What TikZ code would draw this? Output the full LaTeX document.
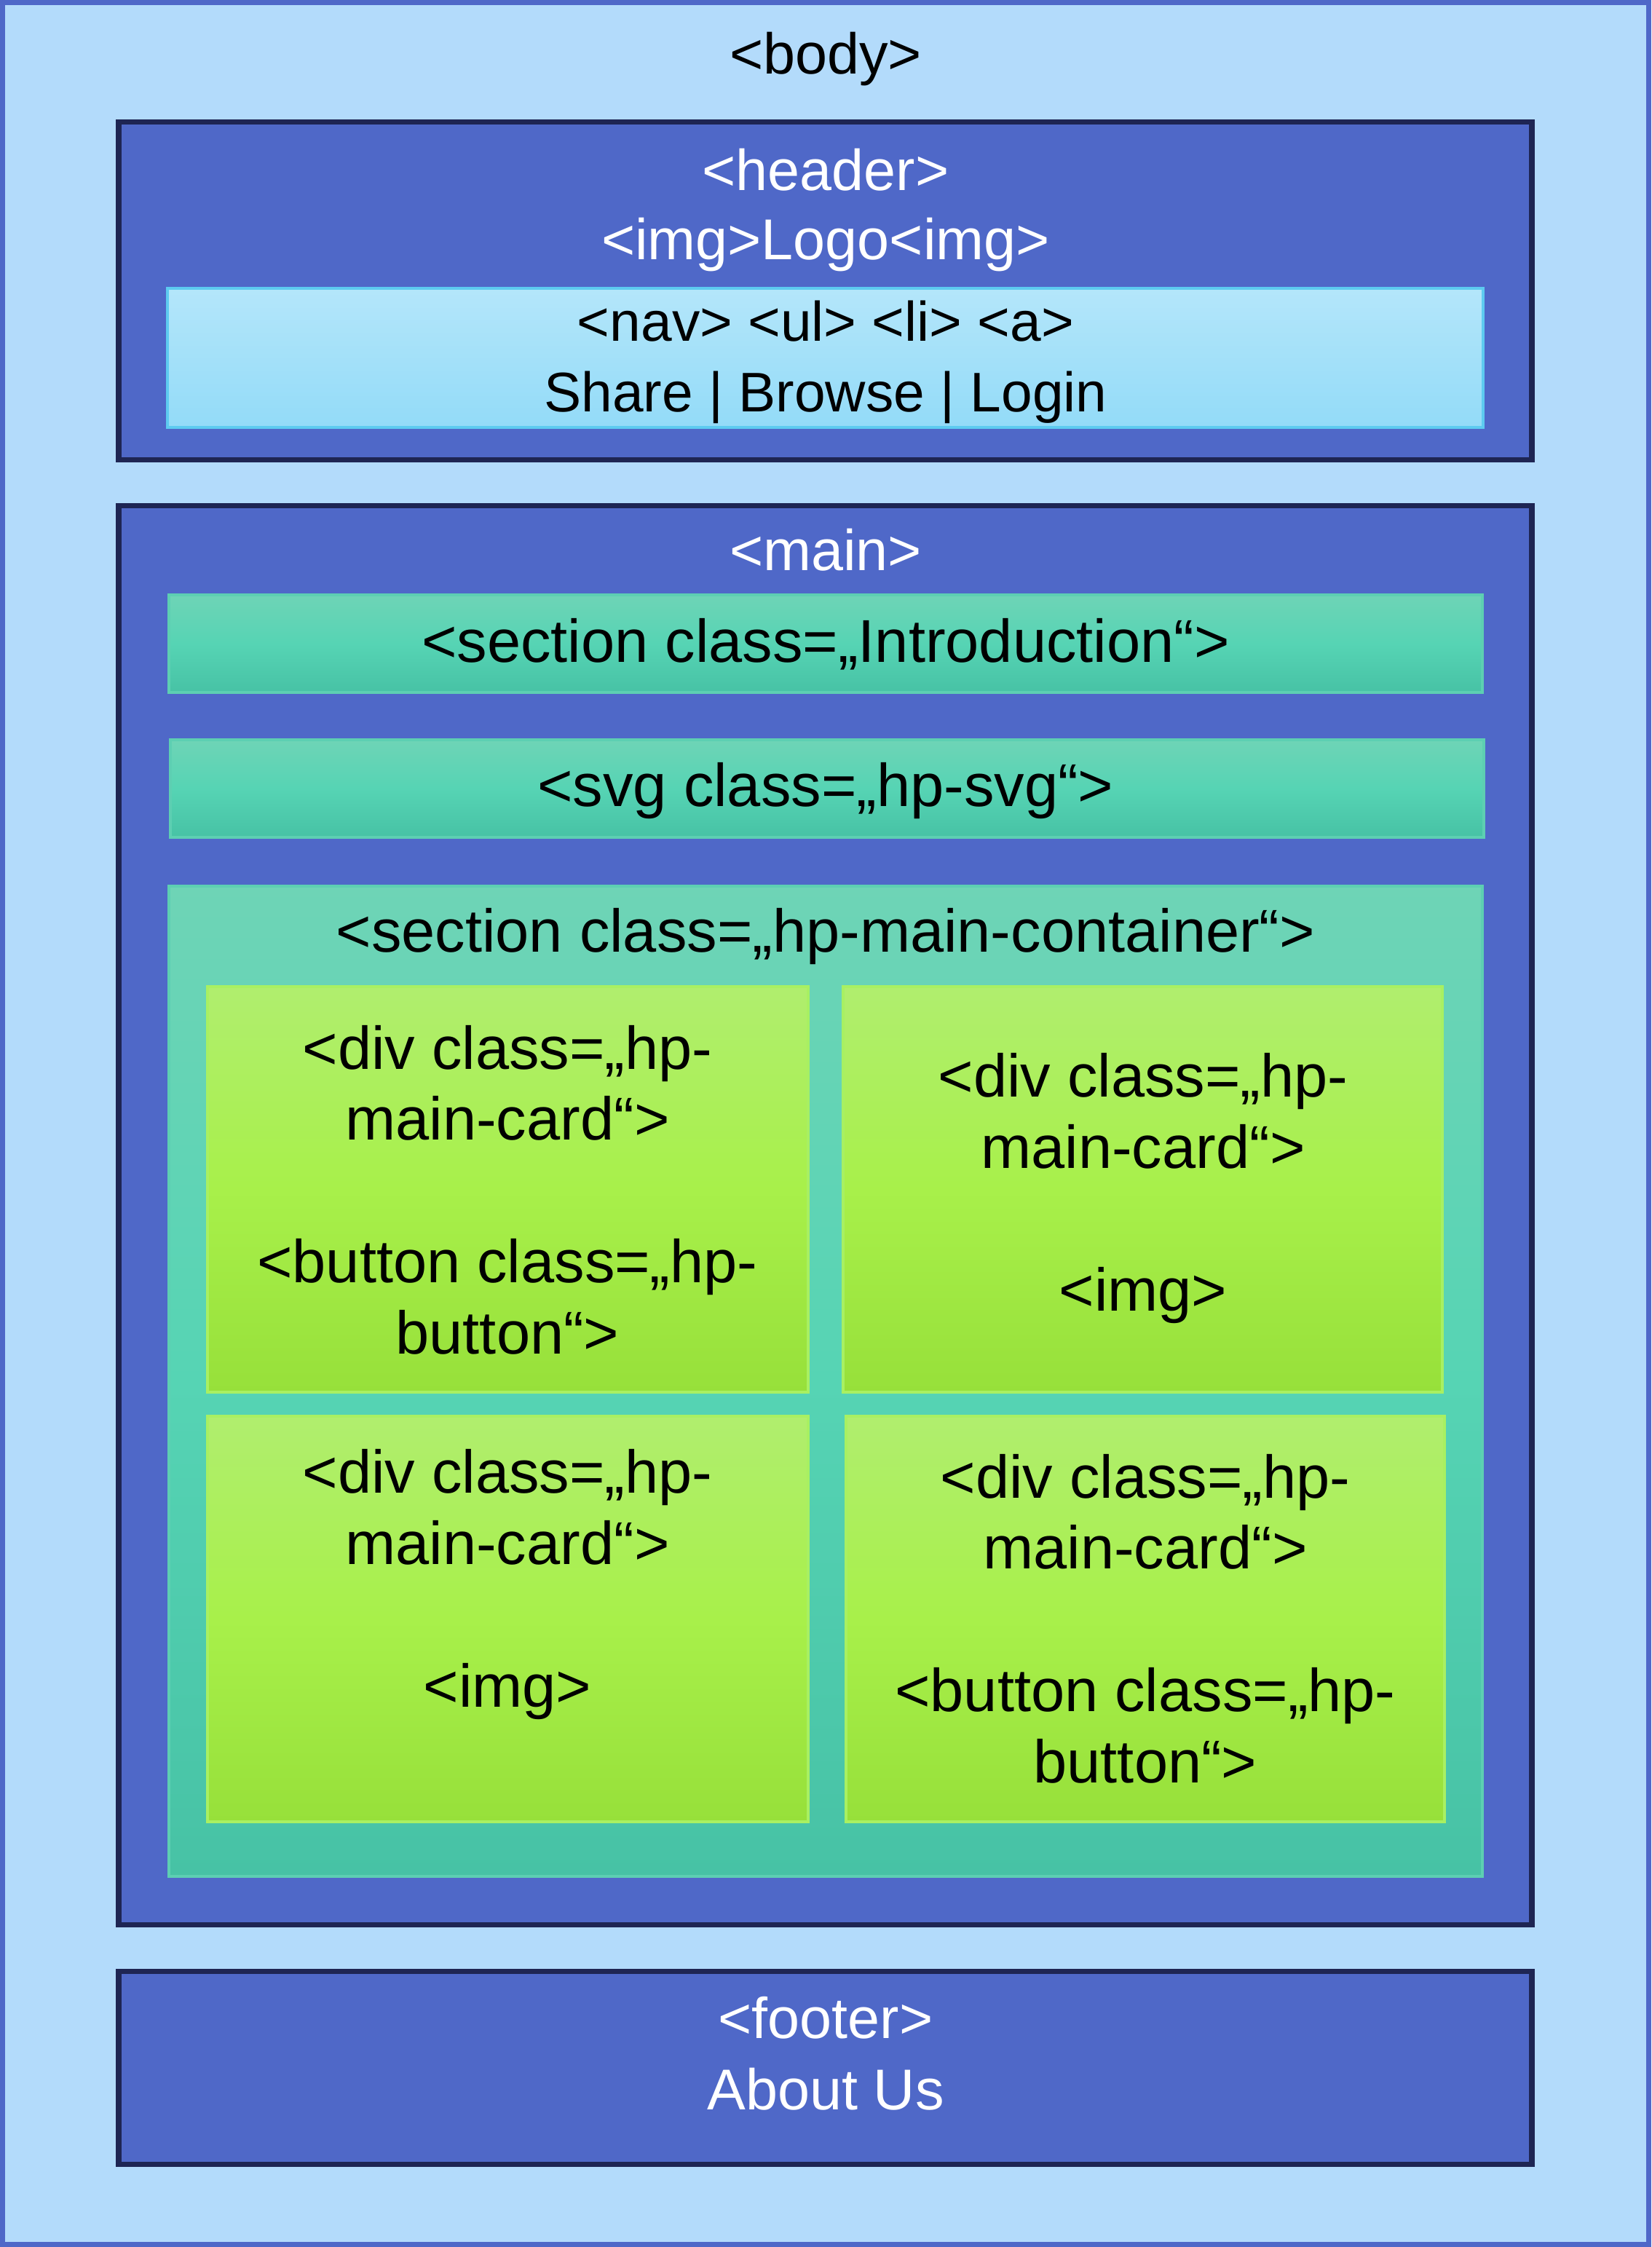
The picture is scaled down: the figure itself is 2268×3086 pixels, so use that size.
\documentclass[tikz,border=0pt]{standalone}
\usepackage{fontspec}
\setmainfont{Liberation Sans}
\usetikzlibrary{fit}
\definecolor{bodyfill}{HTML}{B3DBFB}
\definecolor{bodyline}{HTML}{4F68C8}
\definecolor{darkblue}{HTML}{4F68C8}
\definecolor{navyline}{HTML}{1E2553}
\definecolor{navtop}{HTML}{B4E6FA}
\definecolor{navbot}{HTML}{93DBF8}
\definecolor{navline}{HTML}{5DCBF0}
\definecolor{sectop}{HTML}{6ED4B6}
\definecolor{secmid}{HTML}{56D4B4}
\definecolor{secbot}{HTML}{47C2A5}
\definecolor{secline}{HTML}{5DCFB2}
\definecolor{cardtop}{HTML}{B0EE6E}
\definecolor{cardmid}{HTML}{A8F04A}
\definecolor{cardbot}{HTML}{97E03A}
\definecolor{cardline}{HTML}{A8F062}
\tikzset{
  frame/.style={inner sep=0pt, outer sep=0pt, rectangle},
  bodybox/.style={frame, draw=bodyline, fill=bodyfill, line width=2.1pt},
  bluebox/.style={frame, draw=navyline, fill=darkblue, line width=2pt},
  navbox/.style={frame, draw=navline, line width=1.4pt, top color=navtop, bottom color=navbot},
  secbox/.style={frame, draw=secline, line width=1.4pt, top color=sectop, bottom color=secbot, middle color=secmid},
  cardbox/.style={frame, draw=cardline, line width=1.2pt, top color=cardtop, bottom color=cardbot, middle color=cardmid},
  lbl/.style={inner sep=0pt, font=\fontsize{22.5}{27.7}\selectfont, align=center, text=black},
  wlbl/.style={lbl, text=white},
  biglbl/.style={lbl, font=\fontsize{23.6}{27.8}\selectfont},
  navlbl/.style={lbl, font=\fontsize{21.8}{27.7}\selectfont}
}
\begin{document}
\begin{tikzpicture}[x=0.01cm, y=-0.01cm]
\useasboundingbox (0,0) rectangle (2268,3086);
% body
\node[bodybox, fit={(3.7,3.7) (2264.3,3082.3)}] (body) {};
\node[lbl] (tbody) at (1134,81) {<body>};
% header
\node[bluebox, fit={(163,167) (2104,631)}] (header) {};
\node[wlbl] (theader) at (1134,233) {<header>};
\node[wlbl] (tlogo) at (1134,336) {<img>Logo<img>};
\node[navbox, fit={(230,396) (2037,587)}] (nav) {};
\node[navlbl] (tnav) at (1134,441) {<nav> <ul> <li> <a>};
\node[navlbl] (tlinks) at (1134,546) {Share | Browse | Login};
% main
\node[bluebox, fit={(163,694) (2104,2643)}] (main) {};
\node[wlbl] (tmain) at (1134,755) {<main>};
\node[secbox, fit={(232,817) (2036,951)}] (intro) {};
\node[biglbl] (tintro) at (1134,885) {<section class=„Introduction“>};
\node[secbox, fit={(234,1016) (2038,1150)}] (svg) {};
\node[biglbl] (tsvg) at (1134,1086) {<svg class=„hp-svg“>};
\node[secbox, fit={(232,1217) (2036,2577)}] (cont) {};
\node[biglbl] (tcont) at (1134,1286) {<section class=„hp-main-container“>};
% cards
\node[cardbox, fit={(285,1355) (1110,1912)}] (card1) {};
\node[biglbl] (tcard1) at (697,1634) {<div class=„hp-\\main-card“>\\[27.8pt]<button class=„hp-\\button“>};
\node[cardbox, fit={(1158,1355) (1981,1912)}] (card2) {};
\node[biglbl] (tcard2) at (1570,1632) {<div class=„hp-\\main-card“>\\[27.8pt]<img>};
\node[cardbox, fit={(285,1945) (1110,2502)}] (card3) {};
\node[biglbl] (tcard3) at (697,2176) {<div class=„hp-\\main-card“>\\[27.8pt]<img>};
\node[cardbox, fit={(1162,1945) (1984,2502)}] (card4) {};
\node[biglbl] (tcard4) at (1573,2223) {<div class=„hp-\\main-card“>\\[27.8pt]<button class=„hp-\\button“>};
% footer
\node[bluebox, fit={(163,2707) (2104,2972)}] (footer) {};
\node[wlbl] (tfooter) at (1134,2771) {<footer>};
\node[wlbl] (tabout) at (1134,2869) {About Us};
\end{tikzpicture}
\end{document}
